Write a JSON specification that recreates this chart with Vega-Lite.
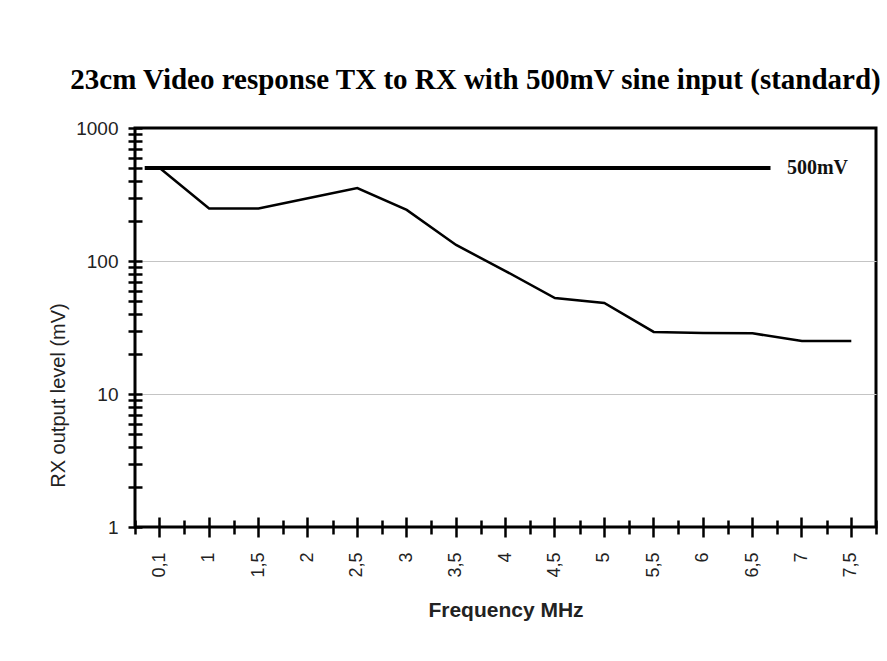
{
  "$schema": "https://vega.github.io/schema/vega-lite/v6.json",
  "width": 741,
  "height": 399,
  "autosize": "none",
  "padding": {"left": 135, "top": 128, "right": 11, "bottom": 134},
  "background": "white",
  "title": {
    "text": "23cm Video response TX to RX with 500mV sine input (standard)",
    "font": "Liberation Serif",
    "fontSize": 29,
    "fontWeight": "bold",
    "color": "black",
    "anchor": "middle",
    "dx": -30,
    "offset": 24
  },
  "config": {
    "view": {"stroke": "black", "strokeWidth": 3},
    "font": "Liberation Sans"
  },
  "datasets": {
    "resp": [
      {"freq": 0.1, "mv": 500},
      {"freq": 1, "mv": 248},
      {"freq": 1.5, "mv": 248},
      {"freq": 2, "mv": 296},
      {"freq": 2.5, "mv": 354},
      {"freq": 3, "mv": 242},
      {"freq": 3.5, "mv": 132},
      {"freq": 4, "mv": 84},
      {"freq": 4.5, "mv": 52.7},
      {"freq": 5, "mv": 48.3},
      {"freq": 5.5, "mv": 29.3},
      {"freq": 6, "mv": 28.8},
      {"freq": 6.5, "mv": 28.6},
      {"freq": 7, "mv": 25},
      {"freq": 7.5, "mv": 25}
    ],
    "ref": [
      {"start": 0.1, "end": 6.5, "level": 500, "label": "500mV", "labelAt": 7}
    ]
  },
  "layer": [
    {
      "data": {"name": "resp"},
      "mark": {"type": "line", "color": "black", "strokeWidth": 2.5},
      "encoding": {
        "x": {
          "field": "freq",
          "type": "ordinal",
          "scale": {"type": "band", "paddingInner": 0, "paddingOuter": 0},
          "axis": {
            "orient": "bottom",
            "offset": -10,
            "tickSize": 20,
            "tickWidth": 2.5,
            "tickColor": "black",
            "domain": false,
            "grid": false,
            "labelAngle": 270,
            "labelPadding": 15,
            "labelFontSize": 18,
            "labelColor": "#222",
            "labelExpr": "replace(datum.label, '.', ',')",
            "title": "Frequency MHz",
            "titleFontSize": 21,
            "titleFontWeight": "bold",
            "titleColor": "#222",
            "titleY": 93,
            "titleBaseline": "middle"
          }
        },
        "y": {
          "field": "mv",
          "type": "quantitative",
          "title": "RX output level (mV)",
          "scale": {"type": "log", "domain": [1, 1000]},
          "axis": {
            "values": [1, 2, 3, 4, 5, 6, 7, 8, 9, 10, 20, 30, 40, 50, 60, 70, 80, 90, 100, 200, 300, 400, 500, 600, 700, 800, 900, 1000],
            "format": "d",
            "labelExpr": "indexof([1, 10, 100, 1000], datum.value) >= 0 ? datum.label : ''",
            "labelOverlap": false,
            "labelFlush": false,
            "offset": -7,
            "tickSize": 14,
            "tickWidth": 2.5,
            "tickColor": "black",
            "domain": false,
            "grid": true,
            "gridColor": "#c4c4c4",
            "gridWidth": 1,
            "gridOpacity": {"condition": {"test": "datum.value == 10 || datum.value == 100", "value": 1}, "value": 0},
            "labelPadding": 10,
            "labelFontSize": 19,
            "labelColor": "#222",
            "titleFontSize": 20,
            "titleFontWeight": "normal",
            "titleColor": "#222",
            "titleX": -84,
            "titleY": 267,
            "titleAlign": "center",
            "titleBaseline": "middle",
            "titleAngle": 270
          }
        }
      }
    },
    {
      "data": {"name": "ref"},
      "mark": {"type": "rule", "color": "black", "strokeWidth": 4, "xOffset": -15, "x2Offset": 18},
      "encoding": {
        "x": {
          "field": "start",
          "type": "ordinal",
          "axis": {
            "orient": "bottom",
            "offset": -7,
            "tickSize": 14,
            "tickWidth": 2.5,
            "tickColor": "black",
            "tickBand": "extent",
            "labels": false,
            "domain": false,
            "grid": false,
            "title": null
          }
        },
        "x2": {"field": "end"},
        "y": {"field": "level", "type": "quantitative", "title": "RX output level (mV)"}
      }
    },
    {
      "data": {"name": "ref"},
      "mark": {"type": "text", "font": "Liberation Serif", "fontWeight": "bold", "fontSize": 20, "align": "left", "baseline": "middle", "dx": -15, "color": "#111"},
      "encoding": {
        "x": {"field": "labelAt", "type": "ordinal", "axis": null},
        "y": {"field": "level", "type": "quantitative", "title": "RX output level (mV)"},
        "text": {"field": "label"}
      }
    }
  ],
  "resolve": {"axis": {"x": "independent"}}
}
